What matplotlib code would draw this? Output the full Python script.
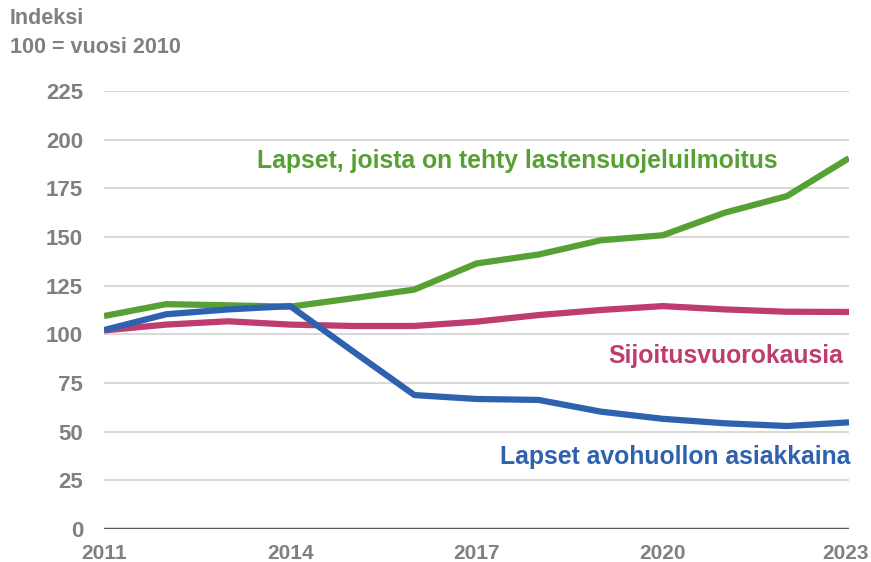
import matplotlib
matplotlib.use('Agg')
import matplotlib.pyplot as plt
from matplotlib.transforms import ScaledTranslation

# Indeksi, 100 = vuosi 2010
years = [2011, 2012, 2013, 2014, 2015, 2016, 2017, 2018, 2019, 2020, 2021, 2022, 2023]
ilmoitus = [109.4, 115.5, 114.9, 114.2, 118.5, 123.0, 136.4, 141.0, 148.3, 150.9, 162.5, 171.0, 190.5]
sijoitus = [102.0, 105.0, 106.7, 105.0, 104.3, 104.3, 106.5, 109.9, 112.5, 114.5, 112.8, 111.6, 111.5]
avohuolto = [102.2, 110.3, 112.8, 114.5, 91.5, 68.8, 66.8, 66.3, 60.3, 56.6, 54.3, 52.9, 54.8]

yticks = [0, 25, 50, 75, 100, 125, 150, 175, 200, 225]
xticks = [2011, 2014, 2017, 2020, 2023]

green = '#57A033'
pink = '#BF3C6E'
blue = '#2E62AF'
gray = '#808080'

plt.rcParams['font.family'] = ['Liberation Sans', 'DejaVu Sans']

fig = plt.figure(figsize=(8.71, 5.62), dpi=100)
ax = fig.add_axes([104 / 871, 1 - 529 / 562, (849 - 104) / 871, (529 - 91) / 562])

for y in yticks[1:]:
    ax.axhline(y, color='#D9D9D9', lw=1.5, zorder=0)
ax.axhline(0, color='#595959', lw=2.5, zorder=1)

ax.plot(years, ilmoitus, color=green, lw=4.5, solid_capstyle='butt', zorder=3)
ax.plot(years, sijoitus, color=pink, lw=4.5, solid_capstyle='butt', zorder=2)
ax.plot(years, avohuolto, color=blue, lw=4.5, solid_capstyle='butt', zorder=4)

ax.set_xlim(2011, 2023)
ax.set_ylim(0, 225)
ax.set_yticks(yticks)
ax.set_xticks(xticks)
ax.tick_params(length=0, colors=gray)
ax.tick_params(axis='y', labelsize=16, pad=15)
ax.tick_params(axis='x', labelsize=15, pad=11)
for lab in ax.get_xticklabels() + ax.get_yticklabels():
    lab.set_fontweight('bold')
for s in ax.spines.values():
    s.set_visible(False)
# viimeinen vuosi hieman vasemmalle, ettei leikkaudu
last = ax.get_xticklabels()[-1]
last.set_transform(last.get_transform() + ScaledTranslation(-4 / 100, 0, fig.dpi_scale_trans))

lbl = dict(fontweight='bold', fontsize=17.8)
ax.text(2021.85, 189, 'Lapset, joista on tehty lastensuojeluilmoitus', color=green,
        ha='right', va='center', **lbl)
ax.text(2022.9, 88.8, 'Sijoitusvuorokausia', color=pink, ha='right', va='center', **lbl)
ax.text(2023.03, 37, 'Lapset avohuollon asiakkaina', color=blue, ha='right', va='center', **lbl)

fig.text(10 / 871, 1 - 33 / 562, 'Indeksi\n100 = vuosi 2010', color=gray, fontsize=15.5,
         fontweight='bold', ha='left', va='center', linespacing=1.45)

fig.savefig('out.png', dpi=100)
